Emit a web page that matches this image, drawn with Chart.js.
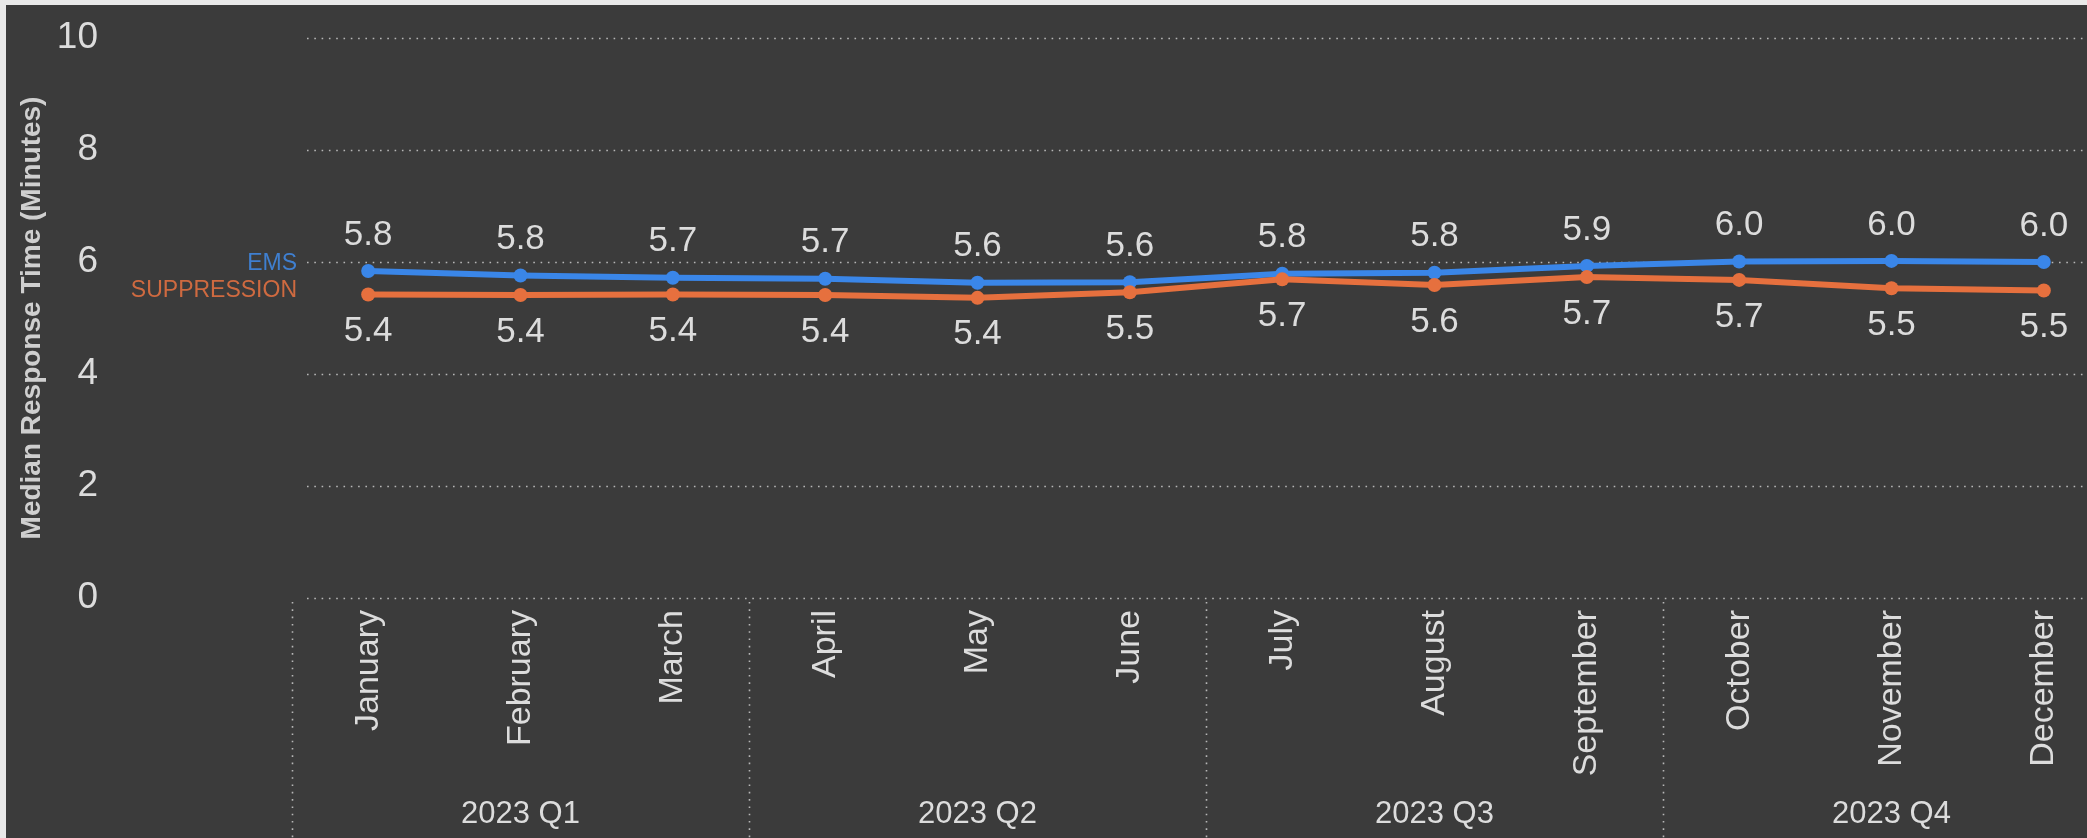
<!DOCTYPE html>
<html>
<head>
<meta charset="utf-8">
<script src="https://cdn.jsdelivr.net/npm/chart.js@4.4.1/dist/chart.umd.min.js"></script>
<style>
  html, body { margin: 0; padding: 0; overflow: hidden; background: #e9e9e9; width: 2087px; height: 838px; }
  #wrap { position: absolute; left: 6px; top: 5px; width: 2300px; height: 833px; background: #3b3b3b; }
  canvas { display: block; }
</style>
</head>
<body>
<div id="wrap"><canvas id="c" width="2114" height="833"></canvas></div>
<script>
const months = ['January','February','March','April','May','June','July','August','September','October','November','December'];
const quarters = ['2023 Q1','2023 Q2','2023 Q3','2023 Q4'];
const emsValues = [5.84, 5.76, 5.72, 5.70, 5.63, 5.64, 5.79, 5.81, 5.93, 6.01, 6.02, 6.00];
const suppressionValues = [5.42, 5.41, 5.42, 5.41, 5.36, 5.46, 5.69, 5.59, 5.73, 5.68, 5.53, 5.49];
const seriesNames = ['EMS', 'SUPPRESSION'];
const yTitle = 'Median Response Time (Minutes)';

const FONT = "'Liberation Sans', Arial, sans-serif";
const TEXT = '#dcdcdc';
const BLUE = '#3a86e8';
const ORANGE = '#e6703e';

const dotted = {
  id: 'dotted',
  beforeDatasetsDraw(chart) {
    const ctx = chart.ctx, y = chart.scales.y, x = chart.scales.x;
    ctx.save();
    ctx.strokeStyle = 'rgba(205,205,205,0.85)';
    ctx.lineWidth = 1.6;
    ctx.setLineDash([1.6, 5.7]);
    y.ticks.forEach(t => {
      const py = Math.round(y.getPixelForValue(t.value)) + 0.5;
      ctx.beginPath();
      ctx.moveTo(x.left + 15, py);
      ctx.lineTo(chart.width, py);
      ctx.stroke();
    });
    const step = x.getPixelForValue(1) - x.getPixelForValue(0);
    for (let i = 0; i < months.length; i += 3) {
      const px = Math.round(x.getPixelForValue(i) - step / 2) + 0.5;
      ctx.beginPath();
      ctx.moveTo(px, y.bottom + 4);
      ctx.lineTo(px, chart.height);
      ctx.stroke();
    }
    ctx.restore();
  }
};

const labels = {
  id: 'labels',
  afterDatasetsDraw(chart) {
    const ctx = chart.ctx;
    ctx.save();
    ctx.font = '35px ' + FONT;
    ctx.fillStyle = TEXT;
    ctx.textAlign = 'center';
    ctx.textBaseline = 'middle';
    chart.data.datasets.forEach((ds, di) => {
      const meta = chart.getDatasetMeta(di);
      meta.data.forEach((pt, i) => {
        const off = ds.label === 'EMS' ? -36 : 37;
        ctx.fillText(ds.data[i].toFixed(1), pt.x, pt.y + off);
      });
    });
    const x = chart.scales.x, y = chart.scales.y;
    const pe = y.getPixelForValue(emsValues[0]);
    const ps = y.getPixelForValue(suppressionValues[0]);
    const mid = (pe + ps) / 2 - 6;
    ctx.font = '23px ' + FONT;
    ctx.textAlign = 'right';
    ctx.fillStyle = '#3f7fd0';
    ctx.fillText(seriesNames[0], x.left + 5, mid - 13.5);
    ctx.fillStyle = '#cf6a40';
    ctx.fillText(seriesNames[1], x.left + 5, mid + 13.5);
    ctx.restore();
  }
};

const chart = new Chart(document.getElementById('c'), {
  type: 'line',
  data: {
    labels: months,
    datasets: [
      { label: seriesNames[0], data: emsValues, borderColor: BLUE, backgroundColor: BLUE,
        borderWidth: 6, pointRadius: 7, pointBorderWidth: 0, tension: 0, order: 1 },
      { label: seriesNames[1], data: suppressionValues, borderColor: ORANGE, backgroundColor: ORANGE,
        borderWidth: 6, pointRadius: 7, pointBorderWidth: 0, tension: 0, order: 0 }
    ]
  },
  options: {
    responsive: false,
    maintainAspectRatio: false,
    animation: false,
    devicePixelRatio: 1,
    layout: { padding: { top: 33, right: 0, left: 0, bottom: 0 } },
    plugins: { legend: { display: false }, tooltip: { enabled: false } },
    scales: {
      x: {
        type: 'category',
        offset: true,
        position: 'bottom',
        weight: 0,
        grid: { display: false, drawTicks: false },
        border: { display: false },
        ticks: { autoSkip: false, minRotation: 90, maxRotation: 90, padding: 12, color: TEXT,
                 font: { family: FONT, size: 34 } },
        afterFit(s) { s.height = 180; }
      },
      xq: {
        type: 'category',
        labels: quarters,
        offset: true,
        position: 'bottom',
        weight: 1,
        grid: { display: false, drawTicks: false },
        border: { display: false },
        ticks: { autoSkip: false, maxRotation: 0, padding: 18, color: TEXT,
                 font: { family: FONT, size: 31 } },
        afterFit(s) { s.height = 60; }
      },
      y: {
        position: 'left',
        weight: 1,
        min: 0, max: 10,
        grid: { display: false, drawTicks: false },
        border: { display: false },
        ticks: { stepSize: 2, padding: 4, color: TEXT, font: { family: FONT, size: 37 } },
        title: { display: true, text: yTitle, color: '#cfcfcf', padding: { top: 9, bottom: 0 },
                 font: { family: FONT, size: 28, weight: 'bold' } },
        afterFit(s) { s.width = 96; }
      },
      gap: {
        type: 'linear',
        position: 'left',
        weight: 0,
        grid: { display: false, drawTicks: false },
        border: { display: false },
        ticks: { display: false, padding: 0 },
        afterFit(s) { s.width = 190; }
      }
    }
  },
  plugins: [dotted, labels]
});

for (let k = 0; k < 2; k++) {
  const extra = 2114 - chart.chartArea.right;
  if (Math.abs(extra) > 0.5) {
    chart.resize(Math.round(chart.width + extra), 833);
  }
}
</script>
</body>
</html>
